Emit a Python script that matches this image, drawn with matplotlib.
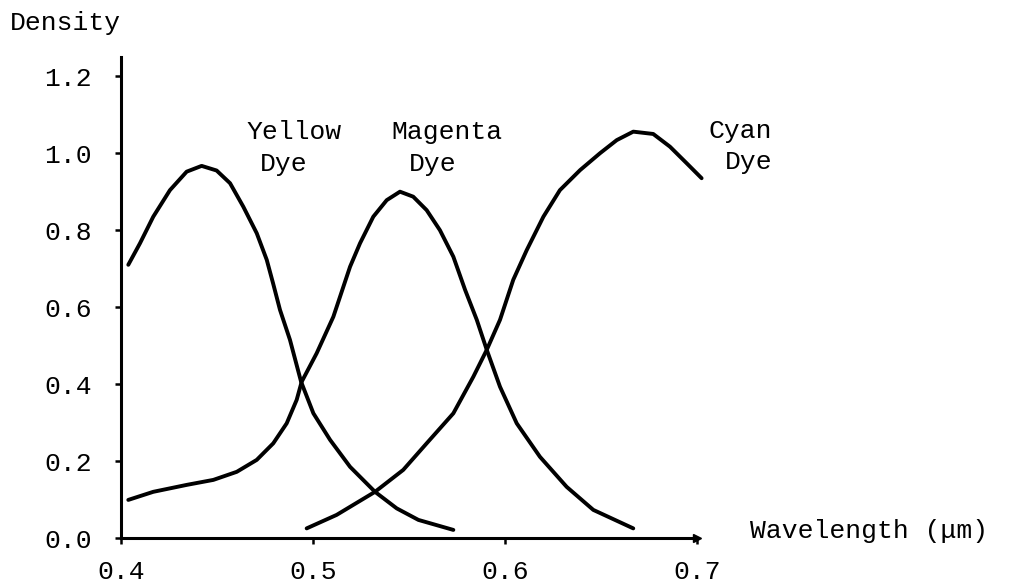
import matplotlib.pyplot as plt

plt.rcParams['font.family'] = ['Liberation Mono', 'DejaVu Sans Mono']

# Data (wavelength in um, density)
yellow_x = [0.4038, 0.4099, 0.4168, 0.4255, 0.4342, 0.4420, 0.4498, 0.4568,
            0.4637, 0.4707, 0.4759, 0.4792, 0.4828, 0.4880, 0.4938, 0.5002,
            0.5089, 0.5193, 0.5323, 0.5436, 0.5549, 0.5731]
yellow_y = [0.710, 0.766, 0.835, 0.904, 0.952, 0.967, 0.955, 0.922,
            0.861, 0.792, 0.723, 0.662, 0.593, 0.515, 0.406, 0.324,
            0.255, 0.185, 0.120, 0.077, 0.047, 0.021]

magenta_x = [0.4038, 0.4168, 0.4342, 0.4481, 0.4603, 0.4707, 0.4793, 0.4863,
             0.4915, 0.4941, 0.5019, 0.5106, 0.5193, 0.5245, 0.5314, 0.5384,
             0.5453, 0.5522, 0.5592, 0.5661, 0.5731, 0.5792, 0.5853, 0.5905,
             0.5974, 0.6061, 0.6182, 0.6321, 0.6460, 0.6668]
magenta_y = [0.099, 0.120, 0.138, 0.151, 0.172, 0.203, 0.246, 0.298,
             0.359, 0.406, 0.480, 0.575, 0.705, 0.766, 0.835, 0.878,
             0.900, 0.887, 0.852, 0.800, 0.731, 0.645, 0.567, 0.489,
             0.393, 0.298, 0.211, 0.133, 0.073, 0.025]

cyan_x = [0.4967, 0.5123, 0.5323, 0.5470, 0.5592, 0.5731, 0.5835, 0.5905,
          0.5974, 0.6043, 0.6113, 0.6200, 0.6286, 0.6391, 0.6495, 0.6582,
          0.6668, 0.6772, 0.6859, 0.6946, 0.7024]
cyan_y = [0.025, 0.060, 0.120, 0.177, 0.246, 0.324, 0.419, 0.489,
          0.567, 0.671, 0.748, 0.835, 0.904, 0.956, 1.000, 1.034,
          1.056, 1.050, 1.017, 0.974, 0.935]

x_ticks = [0.4, 0.5, 0.6, 0.7]
y_ticks = [0.0, 0.2, 0.4, 0.6, 0.8, 1.0, 1.2]

# label text and where it sits (data coords)
dye_labels = [('Yellow', 0.4904, 1.056), ('Dye', 0.4846, 0.973),
              ('Magenta', 0.5695, 1.056), ('Dye', 0.5622, 0.973),
              ('Cyan', 0.7224, 1.058), ('Dye', 0.7268, 0.978)]

fig = plt.figure(figsize=(10.26, 5.88), dpi=100)
ax = fig.add_axes([121 / 1026, 50 / 588, 576 / 1026, 481 / 588])

for xs, ys in [(yellow_x, yellow_y), (magenta_x, magenta_y), (cyan_x, cyan_y)]:
    ax.plot(xs, ys, color='black', lw=2.8, solid_joinstyle='round',
            solid_capstyle='round', clip_on=False)

ax.set_xlim(0.4, 0.7)
ax.set_ylim(0, 1.25)
ax.spines['top'].set_visible(False)
ax.spines['right'].set_visible(False)
ax.spines['left'].set_linewidth(2.2)
ax.spines['bottom'].set_linewidth(2.2)

ax.set_xticks(x_ticks)
ax.set_xticklabels([f'{v:.1f}' for v in x_ticks])
ax.set_yticks(y_ticks)
ax.set_yticklabels([f'{v:.1f}' for v in y_ticks])
ax.tick_params(axis='both', labelsize=19, length=4, width=1.8, direction='out')
ax.tick_params(axis='y', pad=17)
ax.tick_params(axis='x', pad=12)

# small arrowhead at the end of the wavelength axis
ax.plot([0.7], [0], marker='>', color='black', markersize=6, clip_on=False)

for txt, x, y in dye_labels:
    ax.text(x, y, txt, fontsize=19, ha='center', va='center')

fig.text(10 / 1026, 1 - 23 / 588, 'Density', fontsize=19, ha='left', va='center')
fig.text(750 / 1026, 1 - 531 / 588, 'Wavelength (\u03bcm)', fontsize=19,
         ha='left', va='center')

fig.savefig('out.png', dpi=100, facecolor='white')
